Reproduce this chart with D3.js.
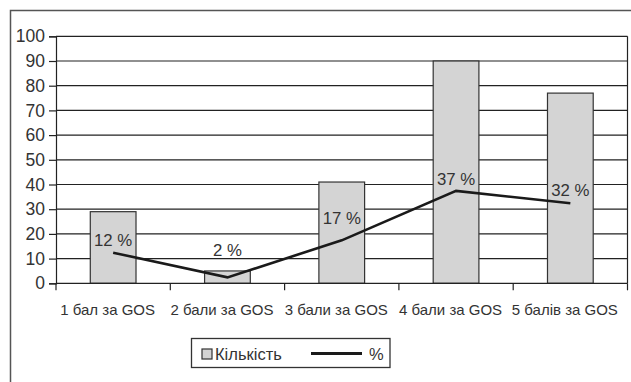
<!DOCTYPE html>
<html>
<head>
<meta charset="utf-8">
<script src="https://cdn.jsdelivr.net/npm/d3@7/dist/d3.min.js"></script>
<style>
  html, body { margin: 0; padding: 0; background: #fff; }
  svg { display: block; }
  text { font-family: "Liberation Sans", Arial, sans-serif; fill: #333; }
</style>
</head>
<body>
<svg id="chart" width="631" height="382"></svg>
<script>
// Grade categories, counts per grade and share of total (%)
const categories = ["1 бал за GOS", "2 бали за GOS", "3 бали за GOS", "4 бали за GOS", "5 балів за GOS"];
const counts = [29, 5, 41, 90, 77];
const percents = [12.4, 2.4, 17.4, 37.4, 32.4];
const yTicks = [0, 10, 20, 30, 40, 50, 60, 70, 80, 90, 100];
const seriesNames = ["Кількість", "%"];

const svg = d3.select("#chart");
const W = 631, H = 382;
const plot = { left: 56, right: 627.5, top: 36.3, bottom: 283.3 };

// outer frame of the chart
svg.append("rect")
  .attr("x", 10.5).attr("y", 10.5)
  .attr("width", W + 20).attr("height", H + 20)
  .attr("fill", "none").attr("stroke", "#555").attr("stroke-width", 1.5);

const x = d3.scaleBand().domain(categories)
  .range([plot.left, plot.right]).paddingInner(0.6).paddingOuter(0.3);
const xCell = d3.scaleBand().domain(categories)
  .range([plot.left, plot.right]).padding(0);
const y = d3.scaleLinear().domain([0, 100]).range([plot.bottom, plot.top]);

// horizontal gridlines
svg.append("g").selectAll("line").data(yTicks.filter(d => d > 0)).join("line")
  .attr("x1", plot.left).attr("x2", plot.right)
  .attr("y1", d => y(d)).attr("y2", d => y(d))
  .attr("stroke", "#222").attr("stroke-width", 1.2);

// right edge of plot area
svg.append("line")
  .attr("x1", plot.right).attr("x2", plot.right)
  .attr("y1", plot.top).attr("y2", plot.bottom)
  .attr("stroke", "#222").attr("stroke-width", 1.2);

// bars
svg.append("g").selectAll("rect").data(counts).join("rect")
  .attr("x", (d, i) => x(categories[i]))
  .attr("y", d => y(d))
  .attr("width", x.bandwidth())
  .attr("height", d => y(0) - y(d))
  .attr("fill", "#d4d4d4").attr("stroke", "#333").attr("stroke-width", 1.2);

// y axis
const yAxis = d3.axisLeft(y).tickValues(yTicks).tickSize(7).tickPadding(4);
const gy = svg.append("g").attr("transform", `translate(${plot.left},0)`).call(yAxis);
gy.select(".domain").attr("stroke", "#222").attr("stroke-width", 1.2);
gy.selectAll(".tick line").attr("stroke", "#222").attr("stroke-width", 1.2);
gy.selectAll(".tick text").attr("font-size", 17.5).attr("fill", "#333")
  .attr("font-family", "Liberation Sans, Arial, sans-serif");

// x axis: ticks sit on the category boundaries
const boundaries = categories.map(c => xCell(c)).concat([plot.right]);
const gx = svg.append("g");
gx.append("line")
  .attr("x1", plot.left).attr("x2", plot.right)
  .attr("y1", y(0)).attr("y2", y(0))
  .attr("stroke", "#222").attr("stroke-width", 1.2);
gx.selectAll("line.tk").data(boundaries).join("line").attr("class", "tk")
  .attr("x1", d => d).attr("x2", d => d)
  .attr("y1", y(0)).attr("y2", y(0) + 7)
  .attr("stroke", "#222").attr("stroke-width", 1.2);
gx.selectAll("text").data(categories).join("text")
  .attr("x", d => xCell(d) + xCell.bandwidth() / 2 - 5.5)
  .attr("y", y(0) + 31.5)
  .attr("text-anchor", "middle")
  .attr("font-size", 15)
  .text(d => d);

// percentage line
const cx = i => x(categories[i]) + x.bandwidth() / 2;
const line = d3.line().x((d, i) => cx(i)).y(d => y(d));
svg.append("path").datum(percents)
  .attr("d", line)
  .attr("fill", "none").attr("stroke", "#1a1a1a").attr("stroke-width", 2.6);

// percentage labels
const labelLift = [13, 27, 22, 12, 13];
svg.append("g").selectAll("text").data(percents).join("text")
  .attr("x", (d, i) => cx(i))
  .attr("y", (d, i) => y(d) - labelLift[i] + 6)
  .attr("text-anchor", "middle")
  .attr("font-size", 16.8)
  .text(d => `${Math.round(d)} %`);

// legend
const lg = svg.append("g");
lg.append("rect").attr("x", 191.5).attr("y", 338.5).attr("width", 198.5).attr("height", 29)
  .attr("fill", "#fff").attr("stroke", "#333").attr("stroke-width", 1.3);
lg.append("rect").attr("x", 202).attr("y", 349).attr("width", 10).attr("height", 10)
  .attr("fill", "#d4d4d4").attr("stroke", "#333").attr("stroke-width", 1.2);
lg.append("text").attr("x", 215).attr("y", 359.5).attr("font-size", 16.5).text(seriesNames[0]);
lg.append("line").attr("x1", 311).attr("x2", 362).attr("y1", 353.5).attr("y2", 353.5)
  .attr("stroke", "#1a1a1a").attr("stroke-width", 3);
lg.append("text").attr("x", 369).attr("y", 359.5).attr("font-size", 16.5).text(seriesNames[1]);
</script>
</body>
</html>
